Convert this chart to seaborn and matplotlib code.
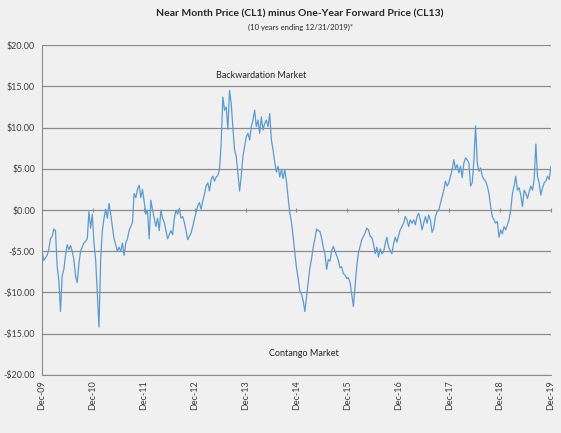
import numpy as np
import pandas as pd
import matplotlib
matplotlib.use('Agg')
import matplotlib.pyplot as plt
import matplotlib.dates as mdates
import matplotlib.ticker as mticker
import seaborn as sns

# CL1 - CL13 spread, every 12 days (Dec-09 .. Dec-19)
spread_2010_2012 = [
    -5.0, -6.1, -5.8, -5.5, -4.8, -3.5, -3.2, -2.3, -2.5, -6.8,
    -8.5, -12.3, -8.0, -7.2, -5.5, -4.2, -4.8, -4.3, -5.0, -6.0,
    -8.0, -8.8, -6.5, -5.0, -4.5, -4.0, -3.8, -3.5, -0.2, -2.2,
    -0.5, -4.0, -6.0, -10.0, -14.2, -6.0, -2.5, -1.0, 0.1, -1.0,
    0.8, -0.5, -2.0, -3.5, -4.2, -5.0, -4.5, -5.0, -4.0, -5.5,
    -4.0, -3.5, -2.5, -2.0, -1.5, 2.0, 1.5, 2.5, 3.0, 1.5,
    2.5, 1.0, -0.5, 0.0, -3.5, 1.2, 0.0, -1.0, -2.0, -1.0,
    -2.5, 0.0, -1.0, -1.5, -2.5, -3.5, -3.0, -2.5, -3.0, -1.0,
    0.0, -0.5, 0.2, -1.0,
]
spread_2013_2016 = [
    -0.8, -1.5, -2.5, -3.6, -3.2, -2.8, -2.0, -1.1, -0.3, 0.5,
    0.9, 0.1, 1.1, 1.9, 2.9, 3.3, 2.3, 3.7, 4.1, 3.5,
    4.0, 4.2, 4.9, 8.1, 13.7, 12.1, 12.5, 9.8, 14.5, 12.9,
    10.0, 7.3, 6.5, 4.5, 2.3, 4.1, 6.5, 7.7, 8.9, 9.3,
    8.5, 10.1, 10.9, 12.1, 10.1, 10.9, 9.3, 11.3, 9.7, 10.5,
    10.9, 10.1, 11.7, 8.5, 7.3, 5.8, 4.6, 5.3, 4.0, 4.9,
    3.8, 4.9, 3.5, 1.5, -0.3, -1.5, -3.2, -5.2, -7.0, -8.3,
    -9.8, -10.2, -11.0, -12.3, -10.5, -8.8, -7.0, -5.9, -4.5, -3.5,
    -2.3, -2.5, -2.6, -3.4, -4.5, -5.3, -7.2, -6.0, -6.2, -5.0,
    -4.4, -5.0, -5.5, -6.1, -7.0, -6.9, -7.7, -7.9, -8.3, -8.2,
    -8.8, -10.2, -11.7, -9.3, -6.8, -5.2, -4.4, -3.6, -3.2, -2.8,
    -2.2, -2.4, -3.2, -3.3,
]
spread_2017_2019 = [
    -4.1, -5.3, -4.5, -5.7, -4.7, -5.3, -5.1, -4.1, -3.3, -4.5,
    -4.9, -5.3, -4.1, -3.3, -3.9, -3.1, -2.4, -2.0, -1.6, -0.8,
    -1.2, -2.0, -1.2, -1.6, -1.2, -1.8, -0.8, -0.4, -1.2, -2.4,
    -1.6, -0.8, -1.6, -0.6, -1.2, -2.7, -2.2, -0.8, -0.2, 0.0,
    0.8, 1.6, 2.4, 3.5, 2.9, 3.3, 4.1, 4.9, 6.1, 5.0,
    5.5, 4.5, 5.3, 3.9, 5.7, 6.3, 6.1, 5.7, 2.9, 3.3,
    6.1, 10.2, 5.7, 4.7, 5.1, 4.1, 3.7, 3.5, 2.9, 2.0,
    0.4, -0.8, -1.2, -1.6, -1.4, -3.3, -2.4, -2.9, -2.0, -2.4,
    -1.8, -1.2, 0.0, 2.0, 2.9, 4.1, 2.4, 2.7, 1.8, 0.4,
    2.4, 2.0, 1.4, 2.2, 2.9, 2.4, 3.7, 8.0, 4.0, 3.3,
    1.8, 2.7, 3.3, 3.5, 4.1, 3.7, 5.3,
]

spread = spread_2010_2012 + spread_2013_2016 + spread_2017_2019
dates = pd.date_range('2009-12-31', '2019-12-31', periods=len(spread))
df = pd.DataFrame({'date': dates, 'spread': spread})

tick_dates = pd.date_range('2009-12-31', '2019-12-31', freq='YE')
y_ticks = [-20, -15, -10, -5, 0, 5, 10, 15, 20]

bg = '#F0F0F0'
grid_col = '#8C8C8C'

sns.set_style('white')
plt.rcParams['font.family'] = ['Lato', 'DejaVu Sans']

fig = plt.figure(figsize=(5.61, 4.33), dpi=100, facecolor=bg)
ax = fig.add_axes([0.075, 0.134, 0.907, 0.762])
ax.set_facecolor(bg)

sns.lineplot(data=df, x='date', y='spread', ax=ax, color='#5B9BD5', linewidth=0.9)

ax.set_ylim(-20, 20)
ax.set_xlim(dates[0], dates[-1])
ax.set_yticks(y_ticks)
ax.yaxis.set_major_formatter(mticker.FuncFormatter(
    lambda v, p: ('-$%.2f' % abs(v)) if v < 0 else ('$%.2f' % v)))
ax.set_xticks(tick_dates)
ax.xaxis.set_major_formatter(mdates.DateFormatter('Dec-%y'))
plt.setp(ax.get_xticklabels(), rotation=90)

ax.grid(axis='y', color=grid_col, linewidth=0.9)
ax.set_axisbelow(True)
for s in ['top', 'right']:
    ax.spines[s].set_visible(False)
ax.spines['left'].set_color(grid_col)
ax.spines['bottom'].set_color(grid_col)
ax.tick_params(axis='y', length=3, color=grid_col, labelsize=6.5, labelcolor='#404040', pad=2)
ax.tick_params(axis='x', length=0, labelsize=6.5, labelcolor='#404040', pad=4)
ax.set_xlabel('')
ax.set_ylabel('')

# small tick marks where the category axis crosses at zero
sec = ax.secondary_xaxis(0.5)
sec.set_xticks(tick_dates)
sec.tick_params(axis='x', direction='inout', length=3, color=grid_col, labelbottom=False, labeltop=False)
sec.spines['bottom'].set_visible(False)
sec.spines['top'].set_visible(False)

ax.text(pd.Timestamp('2014-04-20'), 16.3, 'Backwardation Market', ha='center', va='center',
        fontsize=6.5, color='#262626')
ax.text(pd.Timestamp('2015-02-20'), -17.4, 'Contango Market', ha='center', va='center',
        fontsize=6.5, color='#262626')

fig.text(0.535, 0.967, 'Near Month Price (CL1) minus One-Year Forward Price (CL13)',
         ha='center', va='center', fontsize=7.5, fontweight='bold', color='#262626')
fig.text(0.535, 0.937, '(10 years ending 12/31/2019)*', ha='center', va='center',
         fontsize=5.5, color='#262626')

fig.savefig('out.png', dpi=100, facecolor=bg)
